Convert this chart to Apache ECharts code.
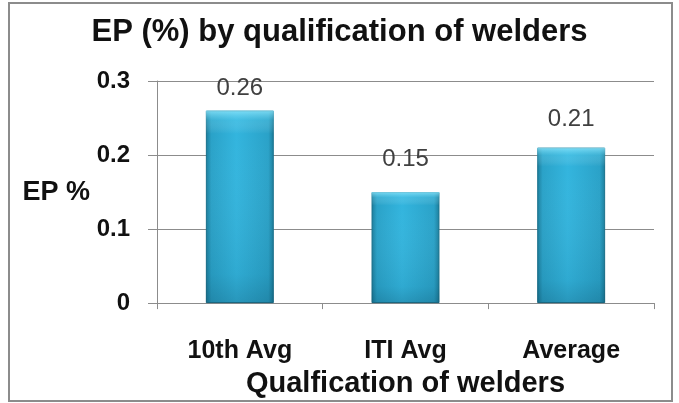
<!DOCTYPE html>
<html>
<head>
<meta charset="utf-8">
<script src="https://cdn.jsdelivr.net/npm/echarts@6/dist/echarts.min.js"></script>
<style>
  html, body { margin: 0; padding: 0; background: #fff; }
  #chart { width: 679px; height: 403px; }
</style>
</head>
<body>
<div id="chart"></div>
<script>
// Qualification groups and their EP values
const categories = ['10th Avg', 'ITI Avg', 'Average'];
const epValues = [0.26, 0.15, 0.21];
const yTicks = { min: 0, max: 0.3, step: 0.1 };

// Gap (px) between each bar top and its value label
const labelGaps = [10, 21, 16];

const chart = echarts.init(document.getElementById('chart'));

// Horizontal shading gives the bars a rounded, cylindrical look
const barFill = new echarts.graphic.LinearGradient(0, 0, 1, 0, [
  { offset: 0, color: '#1b7c9a' },
  { offset: 0.08, color: '#2aa2c8' },
  { offset: 0.45, color: '#33b5de' },
  { offset: 0.92, color: '#2aa2c8' },
  { offset: 1, color: '#1b7c9a' }
]);
// Vertical overlay: bright bevel at the top, darker toward the base
const barGloss = new echarts.graphic.LinearGradient(0, 0, 0, 1, [
  { offset: 0, color: 'rgba(150,235,255,0.75)' },
  { offset: 0.05, color: 'rgba(120,220,245,0.25)' },
  { offset: 0.12, color: 'rgba(255,255,255,0)' },
  { offset: 0.85, color: 'rgba(0,40,60,0.08)' },
  { offset: 1, color: 'rgba(0,40,60,0.22)' }
]);

const font = 'Liberation Sans';

const barData = epValues.map((v, i) => ({
  value: v,
  label: { distance: labelGaps[i] }
}));

chart.setOption({
  animation: false,
  title: {
    text: 'EP (%) by qualification of welders',
    left: 'center',
    top: 12,
    textStyle: { fontFamily: font, fontWeight: 'bold', fontSize: 31, color: '#111' }
  },
  graphic: [{
    type: 'rect',
    shape: { x: 9, y: 3, width: 663, height: 398 },
    style: { fill: 'none', stroke: '#8c8c8c', lineWidth: 2 },
    silent: true
  }],
  grid: { left: 157, right: 25, top: 81, bottom: 98 },
  xAxis: {
    type: 'category',
    data: categories,
    name: 'Qualfication of welders',
    nameLocation: 'middle',
    nameGap: 60,
    nameTextStyle: { fontFamily: font, fontWeight: 'bold', fontSize: 29, color: '#111' },
    axisLine: { lineStyle: { color: '#8c8c8c', width: 1 } },
    axisTick: { show: true, alignWithLabel: false, length: 6, lineStyle: { color: '#8c8c8c' } },
    axisLabel: { margin: 36, fontFamily: font, fontWeight: 'bold', fontSize: 25, color: '#111' }
  },
  yAxis: {
    type: 'value',
    min: yTicks.min,
    max: yTicks.max,
    interval: yTicks.step,
    name: 'EP %',
    nameLocation: 'middle',
    nameRotate: 0,
    nameGap: 67,
    nameTextStyle: { fontFamily: font, fontWeight: 'bold', fontSize: 27, color: '#111' },
    axisLine: { show: true, lineStyle: { color: '#8c8c8c', width: 1 } },
    axisTick: { show: true, length: 9, lineStyle: { color: '#8c8c8c' } },
    axisLabel: { margin: 27, fontFamily: font, fontWeight: 'bold', fontSize: 24, color: '#111' },
    splitLine: { lineStyle: { color: '#8c8c8c', width: 1 } }
  },
  series: [
    {
      type: 'bar',
      data: barData,
      barWidth: '41%',
      itemStyle: { color: barFill, borderColor: '#17708c', borderWidth: 1 },
      label: {
        show: true,
        position: 'top',
        fontFamily: font,
        fontSize: 24,
        color: '#404040'
      },
      z: 2
    },
    {
      type: 'bar',
      data: epValues,
      barWidth: '41%',
      barGap: '-100%',
      silent: true,
      itemStyle: { color: barGloss },
      z: 3
    }
  ]
});
</script>
</body>
</html>
